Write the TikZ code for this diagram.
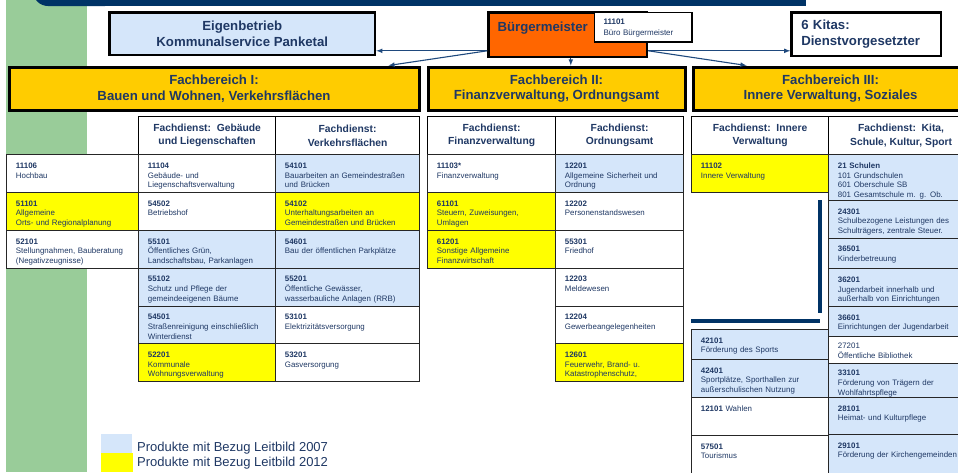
\documentclass[tikz,border=0pt]{standalone}
\usepackage{xcolor}
\usepackage{fontspec}
\setmainfont{Liberation Sans}
\usepackage{tikz}

\definecolor{navy}{RGB}{31,56,100}
\definecolor{balken}{RGB}{0,51,102}
\definecolor{gruen}{RGB}{153,204,153}
\definecolor{fbgelb}{RGB}{255,204,0}
\definecolor{gelb}{RGB}{255,255,0}
\definecolor{hellblau}{RGB}{213,230,250}
\definecolor{bmorange}{RGB}{255,102,0}
\definecolor{pfeilblau}{RGB}{31,73,125}

\begin{document}
\begin{tikzpicture}[x=1pt, y=-1pt,
  titel/.style={draw, line width=2.5pt, anchor=north west, align=center,
    font=\fontsize{13.2}{15.5}\selectfont\bfseries, text=navy},
  kopf/.style={draw, line width=1.2pt, anchor=north west, minimum height=38pt,
    fill=white, align=center, font=\fontsize{10.3}{13.5}\selectfont\bfseries, text=navy},
  zelle/.style={draw=black!85, line width=0.9pt, anchor=north west, align=left,
    text width=#1, inner xsep=9.5pt, inner ysep=0pt, text height=13.7pt,
    text depth=24.1pt, font=\fontsize{7.9}{9.7}\selectfont, text=navy},
  legende/.style={anchor=west, inner sep=0pt, font=\fontsize{13}{15}\selectfont, text=navy},
  pfeil/.style={->, >=latex, draw=pfeilblau, line width=1.1pt}]
\useasboundingbox (0,0) rectangle (958,472);
\clip (0,0) rectangle (958,472);

\fill[gruen] (6,0) rectangle (87,472);
\fill[balken, rounded corners=15pt] (33,-30) rectangle (120,6);
\fill[balken] (60,-30) rectangle (806,6);

\node[titel, fill=hellblau, minimum width=265.5pt, minimum height=42.5pt] (eig) at (108.3,11.3)
{Eigenbetrieb\\Kommunalservice Panketal};
\node[titel, fill=bmorange, align=left, text width=140.5pt, minimum width=158.5pt, inner xsep=9pt,
  inner ysep=9pt, text height=9.5pt, text depth=17pt] (bm) at (487.3,11.3)
{Bürgermeister};
\node[draw, line width=1.5pt, fill=white, anchor=north west, align=left, text width=79.5pt,
  inner xsep=9pt, inner ysep=0pt, text height=12.1pt, text depth=17.4pt,
  font=\fontsize{8}{11}\selectfont, text=navy] (buero) at (593.8,11.8)
{\textbf{11101}\\Büro Bürgermeister};
\node[titel, fill=white, align=left, text width=130pt, minimum width=149.4pt, inner xsep=9.7pt,
  minimum height=43.4pt] (kitas) at (790.3,11.3)
{6 Kitas:\\Dienstvorgesetzter};

\node[titel, fill=fbgelb, line width=3pt, minimum width=410pt, minimum height=43pt] (fb1) at (7.5,65.5)
{Fachbereich I:\\Bauen und Wohnen, Verkehrsflächen};
\node[titel, fill=fbgelb, line width=3pt, minimum width=257pt, minimum height=43pt] (fb2) at (426.5,65.5)
{Fachbereich II:\\Finanzverwaltung, Ordnungsamt};
\node[titel, fill=fbgelb, line width=3pt, minimum width=275pt, minimum height=43pt] (fb3) at (691.5,65.5)
{Fachbereich III:\\Innere Verwaltung, Soziales};

\draw[pfeil] ([yshift=-16pt]bm.west) -- ([yshift=-16pt]bm.west -| eig.east);
\draw[pfeil] ([yshift=-16pt]bm.west) -- ([xshift=-32pt]fb1.north east);
\draw[pfeil] ([xshift=3pt]bm.south) -- ([xshift=3pt]bm.south |- fb2.north);
\draw[pfeil] ([yshift=-16pt]bm.east) -- ([yshift=-16pt]bm.east -| kitas.west);
\draw[pfeil] ([yshift=-16pt]bm.east) -- ([xshift=55pt]fb3.north west);

\node[kopf, minimum width=137pt] (hGebaeude) at (138,116)
{Fachdienst:\ \ Gebäude\\und Liegenschaften};
\node[kopf, minimum width=144pt] (hVerkehr) at (275,116)
{Fachdienst:\\Verkehrsflächen};
\node[kopf, minimum width=128pt] (hFinanz) at (427,116)
{Fachdienst:\\Finanzverwaltung};
\node[kopf, minimum width=128pt] (hOrdnung) at (555,116)
{Fachdienst:\\Ordnungsamt};
\node[kopf, minimum width=137pt] (hInnere) at (691,116)
{Fachdienst:\ \ Innere\\Verwaltung};
\node[kopf, minimum width=145pt] (hKita) at (828,116)
{Fachdienst:\ \ Kita,\\Schule, Kultur, Sport};

\node[zelle=113pt, fill=white] (p11106) at (6,154.3)
{\textbf{11106}\\Hochbau};
\node[zelle=113pt, fill=gelb] (p51101) at (6,192.1)
{\textbf{51101}\\Allgemeine\\Orts- und Regionalplanung};
\node[zelle=113pt, fill=white] (p52101) at (6,229.9)
{\textbf{52101}\\Stellungnahmen, Bauberatung\\(Negativzeugnisse)};

\node[zelle=118pt, fill=white] (p11104) at (138,154.3)
{\textbf{11104}\\Gebäude- und\\Liegenschaftsverwaltung};
\node[zelle=118pt, fill=white] (p54502) at (138,192.1)
{\textbf{54502}\\Betriebshof};
\node[zelle=118pt, fill=hellblau] (p55101) at (138,229.9)
{\textbf{55101}\\Öffentliches Grün,\\Landschaftsbau, Parkanlagen};
\node[zelle=118pt, fill=hellblau] (p55102) at (138,267.7)
{\textbf{55102}\\Schutz und Pflege der\\gemeindeeigenen Bäume};
\node[zelle=118pt, fill=hellblau] (p54501) at (138,305.5)
{\textbf{54501}\\Straßenreinigung einschließlich\\Winterdienst};
\node[zelle=118pt, fill=gelb] (p52201) at (138,343.3)
{\textbf{52201}\\Kommunale\\Wohnungsverwaltung};

\node[zelle=125pt, fill=hellblau] (p54101) at (275,154.3)
{\textbf{54101}\\Bauarbeiten an Gemeindestraßen\\und Brücken};
\node[zelle=125pt, fill=gelb] (p54102) at (275,192.1)
{\textbf{54102}\\Unterhaltungsarbeiten an\\Gemeindestraßen und Brücken};
\node[zelle=125pt, fill=hellblau] (p54601) at (275,229.9)
{\textbf{54601}\\Bau der öffentlichen Parkplätze};
\node[zelle=125pt, fill=hellblau] (p55201) at (275,267.7)
{\textbf{55201}\\Öffentliche Gewässer,\\wasserbauliche Anlagen (RRB)};
\node[zelle=125pt, fill=white] (p53101) at (275,305.5)
{\textbf{53101}\\Elektrizitätsversorgung};
\node[zelle=125pt, fill=white] (p53201) at (275,343.3)
{\textbf{53201}\\Gasversorgung};

\node[zelle=109pt, fill=white] (p11103) at (427,154.3)
{\textbf{11103*}\\Finanzverwaltung};
\node[zelle=109pt, fill=gelb] (p61101) at (427,192.1)
{\textbf{61101}\\Steuern, Zuweisungen,\\Umlagen};
\node[zelle=109pt, fill=gelb] (p61201) at (427,229.9)
{\textbf{61201}\\Sonstige Allgemeine\\Finanzwirtschaft};

\node[zelle=109pt, fill=hellblau] (p12201) at (555,154.3)
{\textbf{12201}\\Allgemeine Sicherheit und\\Ordnung};
\node[zelle=109pt, fill=white] (p12202) at (555,192.1)
{\textbf{12202}\\Personenstandswesen};
\node[zelle=109pt, fill=white] (p55301) at (555,229.9)
{\textbf{55301}\\Friedhof};
\node[zelle=109pt, fill=white] (p12203) at (555,267.7)
{\textbf{12203}\\Meldewesen};
\node[zelle=109pt, fill=white] (p12204) at (555,305.5)
{\textbf{12204}\\Gewerbeangelegenheiten};
\node[zelle=109pt, fill=gelb] (p12601) at (555,343.3)
{\textbf{12601}\\Feuerwehr, Brand- u.\\Katastrophenschutz,};

\node[zelle=118pt, fill=gelb] (p11102) at (691,154.3)
{\textbf{11102}\\Innere Verwaltung};
\node[zelle=118pt, fill=hellblau, text depth=16.3pt] (p42101) at (691,329)
{\textbf{42101}\\Förderung des Sports};
\node[zelle=118pt, fill=hellblau, text depth=24.3pt] (p42401) at (691,359)
{\textbf{42401}\\Sportplätze, Sporthallen zur\\außerschulischen Nutzung};
\node[zelle=118pt, fill=white, text depth=24.3pt] (p12101) at (691,397)
{\textbf{12101} Wahlen};
\node[zelle=118pt, fill=white, text depth=32pt] (p57501) at (691,435)
{\textbf{57501}\\Tourismus};

\node[zelle=126pt, fill=hellblau, text depth=32pt] (p21) at (828,154.3)
{\textbf{21 Schulen}\\101 Grundschulen\\601 Oberschule SB\\801 Gesamtschule m. g. Ob.};
\node[zelle=126pt, fill=hellblau, text depth=24pt] (p24301) at (828,200)
{\textbf{24301}\\Schulbezogene Leistungen des\\Schulträgers, zentrale Steuer.};
\node[zelle=126pt, fill=hellblau, text depth=16.9pt] (p36501) at (828,237.7)
{\textbf{36501}\\Kinderbetreuung};
\node[zelle=126pt, fill=hellblau, text depth=24pt] (p36201) at (828,268.3)
{\textbf{36201}\\Jugendarbeit innerhalb und\\außerhalb von Einrichtungen};
\node[zelle=126pt, fill=hellblau, text depth=16.3pt] (p36601) at (828,306)
{\textbf{36601}\\Einrichtungen der Jugendarbeit};
\node[zelle=126pt, fill=white, text height=12.5pt, text depth=14.5pt] (p27201) at (828,336)
{27201\\Öffentliche Bibliothek};
\node[zelle=126pt, fill=hellblau, text height=12.5pt, text depth=21.5pt] (p33101) at (828,363)
{\textbf{33101}\\Förderung von Trägern der\\Wohlfahrtspflege};
\node[zelle=126pt, fill=hellblau, text depth=23.3pt] (p28101) at (828,397)
{\textbf{28101}\\Heimat- und Kulturpflege};
\node[zelle=126pt, fill=hellblau, text depth=32pt] (p29101) at (828,434)
{\textbf{29101}\\Förderung der Kirchengemeinden};

\fill[balken] (817.7,200) rectangle (821.7,313);
\fill[balken] (691,319.3) rectangle (820,323.3);

\node[fill=hellblau, anchor=north west, inner sep=0pt, minimum width=31pt, minimum height=19pt] (b2007) at (101,434)
{};
\node[fill=gelb, anchor=north west, inner sep=0pt, minimum width=32pt, minimum height=19pt] (b2012) at (101,453)
{};
\node[legende] (t2007) at (137,448)
{Produkte mit Bezug Leitbild 2007};
\node[legende] (t2012) at (137,463.5)
{Produkte mit Bezug Leitbild 2012};
\end{tikzpicture}
\end{document}
